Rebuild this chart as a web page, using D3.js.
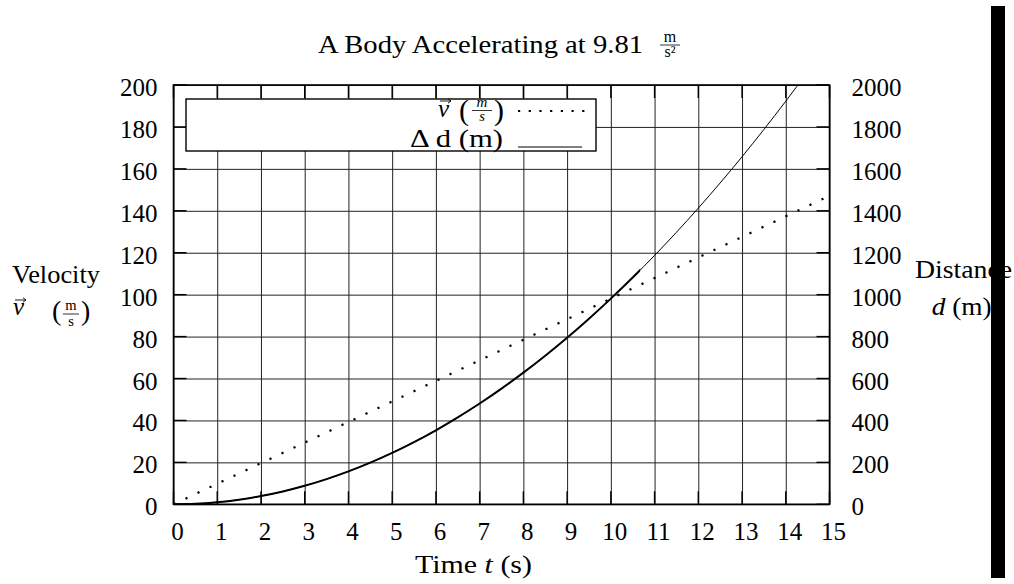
<!DOCTYPE html>
<html><head><meta charset="utf-8">
<script src="https://cdn.jsdelivr.net/npm/d3@7"></script>
<style>
body{margin:0;background:#fff;}
svg{display:block;}
text{font-family:"Liberation Serif","Times New Roman",serif;fill:#000;}
</style>
</head><body>
<svg id="c" width="1014" height="584"></svg>
<script>
// ---- data ----
const xTicks = [0,1,2,3,4,5,6,7,8,9,10,11,12,13,14,15];
const leftTicks = [0,20,40,60,80,100,120,140,160,180,200];
const rightTicks = [0,200,400,600,800,1000,1200,1400,1600,1800,2000];
const velocityT = [0,1,2,3,4,5,6,7,8,9,10,11,12,13,14,15];
const velocity = [0,9.81,19.62,29.43,39.24,49.05,58.86,68.67,78.48,88.29,98.1,107.91,117.72,127.53,137.34,147.15];
const distanceT = [0,0.5,1,1.5,2,2.5,3,3.5,4,4.5,5,5.5,6,6.5,7,7.5,8,8.5,9,9.5,10,10.5,11,11.5,12,12.5,13,13.5,14,14.5];
const distance = [0,2.45,9.81,22.07,39.24,61.31,88.29,120.17,156.96,198.65,245.25,296.75,353.16,414.47,480.69,551.81,627.84,708.77,794.61,885.35,981,1081.55,1187.01,1297.37,1412.64,1532.81,1657.89,1787.87,1922.76,2062.55];
const distanceBoldUntil = 10.67;

// ---- layout ----
const L = 173.5, R = 829.5, T = 85, B = 504.3;
const svg = d3.select("#c");
const x = d3.scaleLinear().domain([0,15]).range([L,R]);
const yL = d3.scaleLinear().domain([0,200]).range([B,T]);
const yR = d3.scaleLinear().domain([0,2000]).range([B,T]);
const FS = 25;

svg.append("defs").append("clipPath").attr("id","plot")
  .append("rect").attr("x",L).attr("y",T).attr("width",R-L).attr("height",B-T);
svg.select("defs").append("clipPath").attr("id","bold")
  .append("rect").attr("x",L).attr("y",T).attr("width",x(distanceBoldUntil)-L).attr("height",B-T);

function fit(sel, len){ return sel.attr("textLength",len).attr("lengthAdjust","spacingAndGlyphs"); }
function vecArrow(x0, x1, y){
  svg.append("path").attr("d",`M${x0},${y}H${x1}M${x1-3},${y-2.2}L${x1},${y}L${x1-3},${y+2.2}`)
    .attr("fill","none").attr("stroke","#000").attr("stroke-width",0.9);
}

// grid + x labels
const gx = svg.append("g").attr("transform",`translate(0,${B})`)
  .call(d3.axisBottom(x).tickValues(xTicks).tickSize(-(B-T)).tickFormat(d3.format("d")));
gx.select(".domain").remove();
gx.selectAll("line").attr("stroke","#222").attr("stroke-width",1);
gx.selectAll("text").attr("y",36).attr("dy",null).attr("dx",3.5)
  .attr("font-size",FS).attr("font-family",'"Liberation Serif",serif').attr("fill","#000");

const gy = svg.append("g").attr("transform",`translate(${L},0)`)
  .call(d3.axisLeft(yL).tickValues(leftTicks).tickSize(-(R-L)).tickFormat(d3.format("d")));
gy.select(".domain").remove();
gy.selectAll("line").attr("stroke","#222").attr("stroke-width",1);
gy.selectAll("text").attr("x",-16).attr("dy",null).attr("y",10.5)
  .attr("font-size",FS).attr("font-family",'"Liberation Serif",serif').attr("fill","#000");

const gr = svg.append("g").attr("transform",`translate(${R},0)`)
  .call(d3.axisRight(yR).tickValues(rightTicks).tickSize(0).tickFormat(d3.format("d")));
gr.select(".domain").remove();
gr.selectAll("text").attr("x",22).attr("dy",null).attr("y",10.5)
  .attr("font-size",FS).attr("font-family",'"Liberation Serif",serif').attr("fill","#000");

// inward ticks
const tk = svg.append("g").attr("stroke","#000").attr("stroke-width",1.4);
leftTicks.forEach(v=>{
  tk.append("line").attr("x1",L).attr("x2",L+13).attr("y1",yL(v)).attr("y2",yL(v));
});
rightTicks.forEach(v=>{
  tk.append("line").attr("x1",R-13).attr("x2",R).attr("y1",yR(v)).attr("y2",yR(v));
});
xTicks.forEach(v=>{
  tk.append("line").attr("x1",x(v)).attr("x2",x(v)).attr("y1",B).attr("y2",B-13);
  tk.append("line").attr("x1",x(v)).attr("x2",x(v)).attr("y1",T).attr("y2",T+13);
});

// curves
const vLine = d3.line().x((d,i)=>x(velocityT[i])).y(d=>yL(d));
svg.append("path").datum(velocity).attr("d",vLine).attr("clip-path","url(#plot)")
  .attr("fill","none").attr("stroke","#000").attr("stroke-width",2.2)
  .attr("stroke-dasharray","2.2 11.06");

const dLine = d3.line().x((d,i)=>x(distanceT[i])).y(d=>yR(d)).curve(d3.curveMonotoneX);
svg.append("path").datum(distance).attr("d",dLine).attr("clip-path","url(#plot)")
  .attr("fill","none").attr("stroke","#000").attr("stroke-width",1);
svg.append("g").attr("clip-path","url(#bold)").append("path").datum(distance).attr("d",dLine)
  .attr("fill","none").attr("stroke","#000").attr("stroke-width",2);

// border
svg.append("rect").attr("x",L).attr("y",T).attr("width",R-L).attr("height",B-T)
  .attr("fill","none").attr("stroke","#000").attr("stroke-width",1.6);

// legend
svg.append("rect").attr("x",186).attr("y",99).attr("width",410).attr("height",52)
  .attr("fill","#fff").attr("stroke","#000").attr("stroke-width",1.4);
svg.append("text").attr("x",438).attr("y",117).attr("font-size",FS).attr("font-style","italic").text("v");
vecArrow(440, 451, 101);
svg.append("text").attr("x",459).attr("y",120).attr("font-size",30).text("(");
svg.append("text").attr("x",482).attr("y",106.5).attr("font-size",15).attr("font-style","italic").attr("text-anchor","middle").text("m");
svg.append("line").attr("x1",472).attr("x2",492).attr("y1",110.5).attr("y2",110.5).attr("stroke","#000").attr("stroke-width",0.8);
svg.append("text").attr("x",482).attr("y",121).attr("font-size",14.5).attr("font-style","italic").attr("text-anchor","middle").text("s");
svg.append("text").attr("x",494).attr("y",120).attr("font-size",30).text(")");
svg.append("line").attr("x1",518).attr("x2",588).attr("y1",111).attr("y2",111)
  .attr("stroke","#000").attr("stroke-width",2.2).attr("stroke-dasharray","2.2 8.5");
fit(svg.append("text").attr("x",503).attr("y",146.5).attr("font-size",24.5).attr("text-anchor","end").text("Δ d (m)"), 93);
svg.append("line").attr("x1",518).attr("x2",582).attr("y1",147).attr("y2",147).attr("stroke","#000").attr("stroke-width",1);

// title
fit(svg.append("text").attr("x",318).attr("y",53).attr("font-size",FS).text("A Body Accelerating at 9.81"), 325);
svg.append("text").attr("x",670).attr("y",42).attr("font-size",16).attr("text-anchor","middle").text("m");
svg.append("line").attr("x1",660).attr("x2",680).attr("y1",45).attr("y2",45).attr("stroke","#000").attr("stroke-width",0.8);
svg.append("text").attr("x",670).attr("y",57).attr("font-size",16).attr("text-anchor","middle").text("s²");

// left axis label
fit(svg.append("text").attr("x",12).attr("y",283).attr("font-size",FS).text("Velocity"), 88);
svg.append("text").attr("x",13).attr("y",315).attr("font-size",FS).attr("font-style","italic").text("v");
vecArrow(15, 26, 300);
svg.append("text").attr("x",52).attr("y",320).attr("font-size",28).text("(");
svg.append("text").attr("x",71).attr("y",310).attr("font-size",14.5).attr("text-anchor","middle").text("m");
svg.append("line").attr("x1",63).attr("x2",79).attr("y1",314).attr("y2",314).attr("stroke","#000").attr("stroke-width",0.8);
svg.append("text").attr("x",71).attr("y",326).attr("font-size",14.5).attr("text-anchor","middle").text("s");
svg.append("text").attr("x",81).attr("y",320).attr("font-size",28).text(")");

// right axis label
fit(svg.append("text").attr("x",915).attr("y",278).attr("font-size",FS).text("Distance"), 97);
const rl = svg.append("text").attr("x",931.7).attr("y",315).attr("font-size",FS)
  .attr("textLength",60).attr("lengthAdjust","spacingAndGlyphs");
rl.append("tspan").attr("font-style","italic").text("d");
rl.append("tspan").text(" (m)");

// x axis label
const xl = svg.append("text").attr("x",415).attr("y",573).attr("font-size",FS)
  .attr("textLength",117).attr("lengthAdjust","spacingAndGlyphs");
xl.append("tspan").text("Time ");
xl.append("tspan").attr("font-style","italic").text("t");
xl.append("tspan").text(" (s)");

// black bar at right edge
svg.append("rect").attr("x",991).attr("y",6).attr("width",14).attr("height",572).attr("fill","#000");
</script>
</body></html>
